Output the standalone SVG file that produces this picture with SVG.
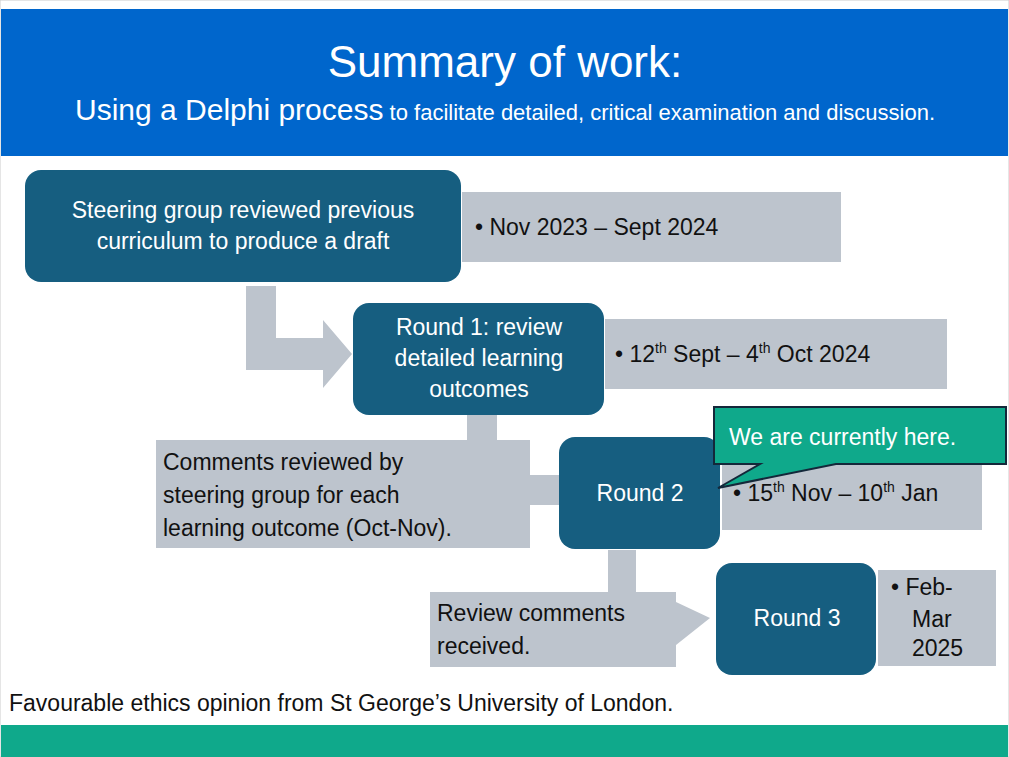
<svg xmlns="http://www.w3.org/2000/svg" width="1009" height="757" viewBox="0 0 1009 757">
<style>
text{font-family:"Liberation Sans",Arial,sans-serif}
.node{fill:#165e80}
.gray{fill:#bdc4cd}
.wt{fill:#fff;font-size:23px}
.bt{fill:#111;font-size:23px}
</style>
<rect width="1009" height="757" fill="#fff"/>
<rect x="0" y="0" width="1009" height="757" fill="none" stroke="#ccc"/>
<g id="header">
<rect x="1" y="9" width="1007" height="147" fill="#0066cc"/>
<text x="505" y="77" text-anchor="middle" fill="#fff" font-size="44">Summary of work:</text>
<text x="505" y="120" text-anchor="middle" fill="#fff" font-size="22"><tspan font-size="30">Using a Delphi process</tspan> to facilitate detailed, critical examination and discussion.</text>
</g>
<g id="connectors" class="gray">
<polygon points="246,286 276,286 276,338 323,338 323,320 352,354 323,388 323,370 246,370"/>
<polygon points="467,414 497,414 497,475 560,475 560,505 467,505"/>
<polygon points="608,550 636,550 636,594 676,594 676,602 710,618 676,645 676,650 608,650"/>
</g>
<g id="date1"><rect class="gray" x="462" y="192" width="379" height="70"/><text class="bt" x="475" y="235">•  Nov 2023 – Sept 2024</text></g>
<g id="n1"><rect class="node" x="25" y="170" width="436" height="112" rx="16"/>
<text class="wt" text-anchor="middle" x="243" y="218">Steering group reviewed previous</text>
<text class="wt" text-anchor="middle" x="243" y="249">curriculum to produce a draft</text></g>
<g id="date2"><rect class="gray" x="605" y="319" width="342" height="70"/><text class="bt" x="615" y="362">•  12<tspan font-size="14" dy="-9">th</tspan><tspan dy="9"> Sept – 4</tspan><tspan font-size="14" dy="-9">th</tspan><tspan dy="9"> Oct 2024</tspan></text></g>
<g id="n2"><rect class="node" x="353" y="303" width="251" height="112" rx="16"/>
<text class="wt" text-anchor="middle" x="479" y="335">Round 1: review</text>
<text class="wt" text-anchor="middle" x="479" y="366">detailed learning</text>
<text class="wt" text-anchor="middle" x="479" y="397">outcomes</text></g>
<g id="comments"><rect class="gray" x="156" y="440" width="374" height="108"/>
<text class="bt" x="163" y="470">Comments reviewed by</text>
<text class="bt" x="163" y="503">steering group for each</text>
<text class="bt" x="163" y="536">learning outcome (Oct-Nov).</text></g>
<g id="date3"><rect class="gray" x="722" y="465" width="260" height="65"/><text class="bt" x="733" y="501">•  15<tspan font-size="14" dy="-9">th</tspan><tspan dy="9"> Nov – 10</tspan><tspan font-size="14" dy="-9">th</tspan><tspan dy="9"> Jan</tspan></text></g>
<g id="n3"><rect class="node" x="559" y="437" width="161" height="112" rx="16"/>
<text class="wt" text-anchor="middle" x="640" y="501">Round 2</text></g>
<g id="callout"><path d="M714,407 H1006 V464 H836 L718,488 L760,464 H714 Z" fill="#0fa98b" stroke="#14283a" stroke-width="2"/>
<text class="wt" x="729" y="445">We are currently here.</text></g>
<g id="review"><rect class="gray" x="430" y="592" width="246" height="75"/>
<text class="bt" x="437" y="621">Review comments</text>
<text class="bt" x="437" y="654">received.</text></g>
<g id="date4"><rect class="gray" x="878" y="570" width="118" height="96"/>
<text class="bt" x="891" y="595">•  Feb-</text><text class="bt" x="912" y="627">Mar</text><text class="bt" x="912" y="656">2025</text></g>
<g id="n4"><rect class="node" x="716" y="563" width="160" height="112" rx="16"/>
<text class="wt" text-anchor="middle" x="797" y="626">Round 3</text></g>
<g id="footer"><text x="9" y="711" font-size="23" fill="#111">Favourable ethics opinion from St George’s University of London.</text>
<rect x="1" y="725" width="1007" height="32" fill="#0fa98b"/></g>
</svg>
